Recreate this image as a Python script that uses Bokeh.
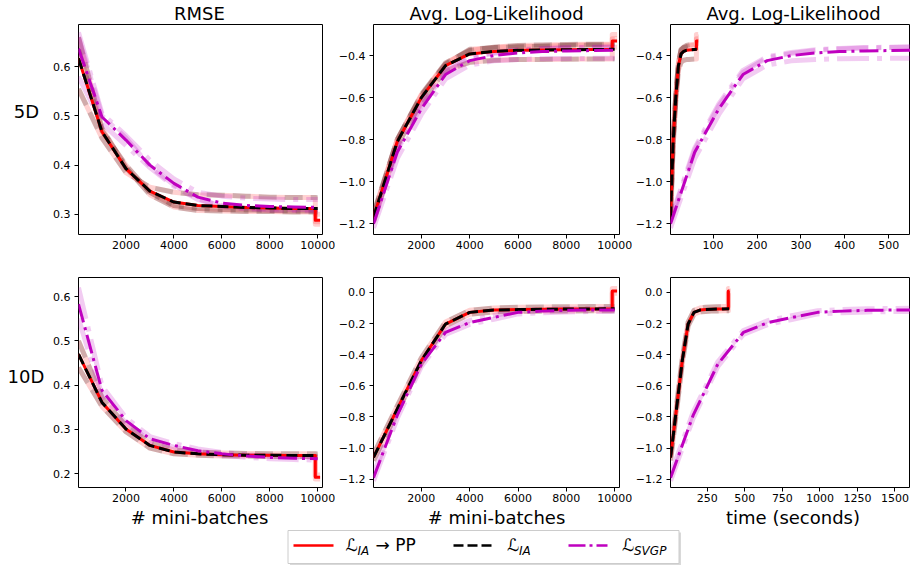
from bokeh.plotting import figure
from bokeh.layouts import column, row
from bokeh.models import Range1d, FixedTicker, CustomJSTickFormatter, Label
from bokeh.core.properties import value
from bokeh.embed import file_html
from bokeh.resources import INLINE

FONT = "DejaVu Sans"
RED = "#ff0000"
BLACK = "#000000"
MAG = "#bf00bf"

# ---------------- data ----------------
batches = [20, 1000, 2000, 3000, 4000, 5000, 6000, 7000, 8000, 9000, 10000]
pp_batches = [9900, 9900, 10100]

time5_ia = [3, 9, 15, 21, 27, 33, 39, 45, 51, 57, 63]
time5_pp = [62, 62, 66]
time5_svgp = [3, 58, 113, 168, 223, 278, 333, 388, 443, 498, 553]
time10_ia = [5, 44, 83, 122, 161, 200, 239, 278, 317, 356, 395]
time10_pp = [390, 390, 398]
time10_svgp = [5, 155, 320, 490, 655, 820, 985, 1150, 1315, 1480, 1645]

# 5D
rmse5_ia = [0.617, 0.468, 0.393, 0.347, 0.325, 0.318, 0.316, 0.314, 0.313, 0.312, 0.312]
rmse5_pp = 0.288
rmse5_svgp = [0.637, 0.498, 0.451, 0.400, 0.363, 0.335, 0.323, 0.318, 0.316, 0.315, 0.314]
rmse5_ia_runs = [[0.555, 0.455, 0.385, 0.355, 0.345, 0.340, 0.339, 0.337, 0.335, 0.334, 0.334],
                 [0.660, 0.475, 0.395, 0.340, 0.315, 0.308, 0.307, 0.306, 0.306, 0.305, 0.305],
                 [0.635, 0.470, 0.400, 0.345, 0.318, 0.312, 0.310, 0.309, 0.308, 0.307, 0.307]]
rmse5_pp_runs = [0.300, 0.280, 0.285]
rmse5_svgp_runs = [[0.670, 0.505, 0.460, 0.410, 0.372, 0.345, 0.337, 0.333, 0.331, 0.330, 0.330],
                   [0.580, 0.485, 0.440, 0.395, 0.357, 0.330, 0.318, 0.313, 0.311, 0.310, 0.310],
                   [0.660, 0.500, 0.455, 0.398, 0.360, 0.332, 0.316, 0.311, 0.309, 0.308, 0.307]]

ll5_ia = [-1.17, -0.81, -0.60, -0.448, -0.392, -0.380, -0.375, -0.373, -0.372, -0.371, -0.370]
ll5_pp = -0.33
ll5_svgp = [-1.20, -0.86, -0.653, -0.49, -0.424, -0.400, -0.387, -0.381, -0.378, -0.376, -0.375]
ll5_ia_runs = [[-1.15, -0.80, -0.585, -0.435, -0.375, -0.360, -0.352, -0.349, -0.347, -0.346, -0.345],
               [-1.19, -0.83, -0.620, -0.470, -0.432, -0.422, -0.419, -0.418, -0.417, -0.416, -0.416],
               [-1.16, -0.80, -0.590, -0.440, -0.370, -0.362, -0.358, -0.355, -0.352, -0.350, -0.350]]
ll5_pp_runs = [-0.30, -0.36, -0.32]
ll5_svgp_runs = [[-1.18, -0.84, -0.63, -0.47, -0.405, -0.385, -0.372, -0.366, -0.362, -0.360, -0.358],
                 [-1.22, -0.89, -0.68, -0.51, -0.445, -0.425, -0.418, -0.415, -0.414, -0.413, -0.413],
                 [-1.19, -0.85, -0.64, -0.48, -0.410, -0.390, -0.375, -0.368, -0.364, -0.362, -0.360]]

# 10D
rmse10_ia = [0.470, 0.361, 0.301, 0.264, 0.249, 0.245, 0.243, 0.242, 0.242, 0.241, 0.241]
rmse10_pp = 0.192
rmse10_svgp = [0.583, 0.388, 0.320, 0.279, 0.264, 0.252, 0.245, 0.240, 0.237, 0.235, 0.234]
rmse10_ia_runs = [[0.440, 0.352, 0.295, 0.258, 0.245, 0.242, 0.240, 0.240, 0.239, 0.239, 0.239],
                  [0.500, 0.372, 0.308, 0.270, 0.254, 0.249, 0.247, 0.246, 0.245, 0.245, 0.245]]
rmse10_pp_runs = [0.188, 0.197]
rmse10_svgp_runs = [[0.620, 0.398, 0.326, 0.284, 0.268, 0.256, 0.248, 0.243, 0.240, 0.238, 0.237],
                    [0.550, 0.378, 0.314, 0.274, 0.260, 0.249, 0.242, 0.237, 0.234, 0.232, 0.231]]

ll10_ia = [-1.06, -0.75, -0.438, -0.203, -0.128, -0.113, -0.110, -0.108, -0.107, -0.106, -0.105]
ll10_pp = 0.01
ll10_svgp = [-1.19, -0.79, -0.46, -0.257, -0.193, -0.160, -0.128, -0.120, -0.115, -0.113, -0.112]
ll10_ia_runs = [[-1.04, -0.73, -0.42, -0.19, -0.115, -0.100, -0.095, -0.093, -0.092, -0.091, -0.090],
                [-1.08, -0.77, -0.455, -0.215, -0.140, -0.125, -0.122, -0.120, -0.119, -0.118, -0.118]]
ll10_pp_runs = [0.025, -0.005]
ll10_svgp_runs = [[-1.17, -0.77, -0.445, -0.245, -0.180, -0.148, -0.118, -0.110, -0.105, -0.103, -0.102],
                  [-1.21, -0.81, -0.475, -0.270, -0.205, -0.172, -0.138, -0.130, -0.125, -0.123, -0.122]]

titles = ["RMSE", "Avg. Log-Likelihood", "Avg. Log-Likelihood"]
row_labels = ["5D", "10D"]
x_labels = ["# mini-batches", "# mini-batches", "time (seconds)"]

ticks_batches = [2000, 4000, 6000, 8000, 10000]
ticks_time5 = [100, 200, 300, 400, 500]
ticks_time10 = [250, 500, 750, 1000, 1250, 1500]
ticks_rmse5 = [0.3, 0.4, 0.5, 0.6]
ticks_ll5 = [-1.2, -1.0, -0.8, -0.6, -0.4]
ticks_rmse10 = [0.2, 0.3, 0.4, 0.5, 0.6]
ticks_ll10 = [-1.2, -1.0, -0.8, -0.6, -0.4, -0.2, 0.0]

TOTAL_W = 910


def fmt(dec):
    return CustomJSTickFormatter(
        code="var v = Math.abs(tick) < 1e-9 ? 0 : tick; return v.toFixed(%d).replace('-', '\\u2212');" % dec)


def strip(w, h):
    """A blank figure whose data units are pixels, used to hold text."""
    s = figure(width=w, height=h, x_range=Range1d(0, w), y_range=Range1d(0, h),
               output_backend="svg", toolbar_location=None, x_axis_type=None, y_axis_type=None,
               min_border_left=0, min_border_right=0, min_border_top=0, min_border_bottom=0)
    s.grid.visible = False
    s.outline_line_color = None
    s.background_fill_color = "white"
    s.border_fill_color = "white"
    return s


def make_fig(w, h, mbl, mbr, mbt, mbb, xr, yr, xticks, yticks, xdec, ydec):
    p = figure(width=w, height=h, x_range=Range1d(*xr), y_range=Range1d(*yr),
               output_backend="svg", toolbar_location=None,
               min_border_left=mbl, min_border_right=mbr,
               min_border_top=mbt, min_border_bottom=mbb)
    p.grid.visible = False
    p.outline_line_color = "black"
    p.outline_line_width = 1
    p.background_fill_color = "white"
    p.border_fill_color = "white"
    for ax, tks, dec in ((p.xaxis[0], xticks, xdec), (p.yaxis[0], yticks, ydec)):
        ax.ticker = FixedTicker(ticks=tks)
        ax.formatter = fmt(dec)
        ax.axis_line_color = None
        ax.major_tick_line_color = "black"
        ax.major_tick_out = 4
        ax.major_tick_in = 0
        ax.minor_tick_line_color = None
        ax.major_label_text_font = FONT
        ax.major_label_text_font_size = "11px"
        ax.major_label_text_color = "black"
    p.xaxis[0].major_label_standoff = 2
    p.yaxis[0].major_label_standoff = 4
    return p


def draw(p, x_ia, x_pp, x_svgp, ia, pp, svgp, ia_runs, pp_runs, svgp_runs):
    for run, pr in zip(ia_runs, pp_runs):
        p.line(x_ia[:-1] + x_pp, run[:-1] + [run[-1], pr, pr], line_color=RED,
               line_alpha=0.18, line_width=5, line_join="round")
    for run in ia_runs:
        p.line(x_ia, run, line_color=BLACK, line_alpha=0.18, line_width=5,
               line_dash="18 8", line_join="round")
    for run in svgp_runs:
        p.line(x_svgp, run, line_color=MAG, line_alpha=0.2, line_width=5,
               line_dash="32 8 5 8", line_join="round")
    p.line(x_ia[:-1] + x_pp, ia[:-1] + [ia[-1], pp, pp], line_color=RED,
           line_width=3, line_join="round")
    p.line(x_ia, ia, line_color=BLACK, line_width=3, line_dash="11 5", line_join="round")
    p.line(x_svgp, svgp, line_color=MAG, line_width=3, line_dash="19 5 3 5", line_join="round")


def mid_label(target, x, y, text, size="18px", style="normal"):
    target.add_layout(Label(x=x, y=y, text=text, text_align="center", text_baseline="middle",
                            text_font=FONT, text_font_size=size, text_font_style=style,
                            text_color="black"))


XR_B = (20, 10200)
XR_T5 = (3, 549.5)
XR_T10 = (4.5, 1603.7)

# ---------------- title strip (page y 0..24) ----------------
tstrip = strip(TOTAL_W, 24)
tstrip.text(x=[199, 496, 793], y=[11, 11, 11], text=titles, text_align="center",
            text_baseline="middle", text_font=value(FONT), text_font_size="18px",
            text_color="black")

# ---------------- row 1 (page y 24..255, frame 24..234) ----------------
r1lab = strip(50, 231)
mid_label(r1lab, 26, 255 - 119.8, row_labels[0])

f11 = make_fig(285, 231, 26, 13, 0, 21, XR_B, (0.259, 0.686), ticks_batches, ticks_rmse5, 0, 1)
draw(f11, batches, pp_batches, batches, rmse5_ia, rmse5_pp, rmse5_svgp,
     rmse5_ia_runs, rmse5_pp_runs, rmse5_svgp_runs)

f12 = make_fig(297, 231, 37, 13, 0, 21, XR_B, (-1.251, -0.252), ticks_batches, ticks_ll5, 0, 1)
draw(f12, batches, pp_batches, batches, ll5_ia, ll5_pp, ll5_svgp,
     ll5_ia_runs, ll5_pp_runs, ll5_svgp_runs)

f13 = make_fig(278, 231, 37, 0, 0, 21, XR_T5, (-1.251, -0.252), ticks_time5, ticks_ll5, 0, 1)
draw(f13, time5_ia, time5_pp, time5_svgp, ll5_ia, ll5_pp, ll5_svgp,
     ll5_ia_runs, ll5_pp_runs, ll5_svgp_runs)

# ---------------- row 2 (page y 255..506, frame 277..487) ----------------
r2lab = strip(50, 251)
mid_label(r2lab, 25.5, 506 - 372.9, row_labels[1])

f21 = make_fig(285, 251, 26, 13, 22, 19, XR_B, (0.169, 0.643), ticks_batches, ticks_rmse10, 0, 1)
draw(f21, batches, pp_batches, batches, rmse10_ia, rmse10_pp, rmse10_svgp,
     rmse10_ia_runs, rmse10_pp_runs, rmse10_svgp_runs)

f22 = make_fig(297, 251, 37, 13, 22, 19, XR_B, (-1.253, 0.096), ticks_batches, ticks_ll10, 0, 1)
draw(f22, batches, pp_batches, batches, ll10_ia, ll10_pp, ll10_svgp,
     ll10_ia_runs, ll10_pp_runs, ll10_svgp_runs)

f23 = make_fig(278, 251, 37, 0, 22, 19, XR_T10, (-1.253, 0.096), ticks_time10, ticks_ll10, 0, 1)
draw(f23, time10_ia, time10_pp, time10_svgp, ll10_ia, ll10_pp, ll10_svgp,
     ll10_ia_runs, ll10_pp_runs, ll10_svgp_runs)

# ---------------- x-label strip (page y 506..527) ----------------
xstrip = strip(TOTAL_W, 21)
xstrip.text(x=[199, 496, 792.5], y=[10.5, 10.5, 10.5], text=x_labels, text_align="center",
            text_baseline="middle", text_font=value(FONT), text_font_size="18px",
            text_color="black")

# ---------------- legend (page y 527..565) ----------------
leg = strip(TOTAL_W, 38)
leg.quad(left=[289.5], right=[680.5], bottom=[0], top=[33], fill_color="#d0d0d0",
         line_color=None, fill_alpha=0.8)
leg.quad(left=[287.5], right=[678.5], bottom=[2], top=[35], fill_color="white",
         line_color="#cccccc", line_width=1)
leg.line([293, 333], [20, 20], line_color=RED, line_width=2.5)
leg.line([453, 492], [20, 20], line_color=BLACK, line_width=2.5, line_dash="10 4")
leg.line([568, 607], [20, 20], line_color=MAG, line_width=2.5, line_dash="17 4 3 4")

legend_entries = [("ℒ", "IA", "→ PP", 345), ("ℒ", "IA", "", 506.5), ("ℒ", "SVGP", "", 621.5)]
for big, sub, tail, x0 in legend_entries:
    leg.add_layout(Label(x=x0, y=20.9, text=big, text_font=FONT, text_font_size="17px",
                         text_baseline="middle", text_color="black"))
    leg.add_layout(Label(x=x0 + 12, y=14.8, text=sub, text_font=FONT, text_font_size="12px",
                         text_font_style="italic", text_baseline="middle", text_color="black"))
    if tail:
        leg.add_layout(Label(x=x0 + 30, y=20.9, text=tail, text_font=FONT, text_font_size="17px",
                             text_baseline="middle", text_color="black"))

layout = column(tstrip,
                row(r1lab, f11, f12, f13),
                row(r2lab, f21, f22, f23),
                xstrip,
                leg)

open("out.html", "w").write(file_html(layout, INLINE))
